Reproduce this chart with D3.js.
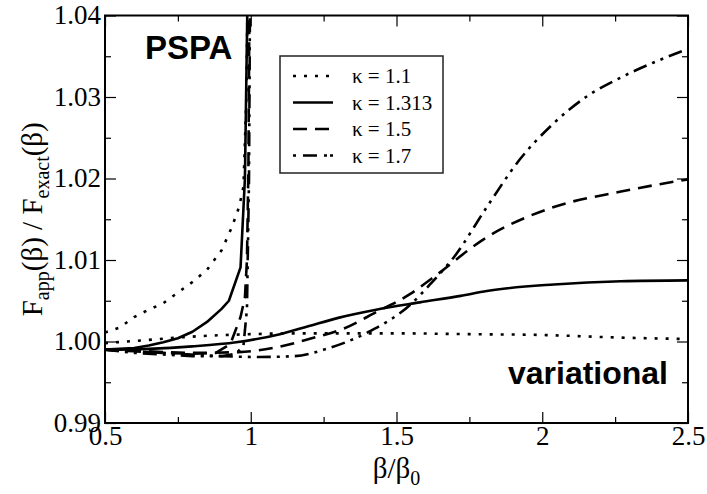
<!DOCTYPE html>
<html><head><meta charset="utf-8">
<script src="https://cdn.jsdelivr.net/npm/d3@7"></script>
<style>body{margin:0;background:#fff}svg{display:block}
.serif{font-family:"Liberation Serif","Times New Roman",Times,serif}
.sans{font-family:"Liberation Sans",Arial,Helvetica,sans-serif}
</style>
</head><body>
<svg id="c" width="707" height="494"></svg>
<script>
// ---- data ----
const xTicks = [0.5, 1, 1.5, 2, 2.5];
const xTickLabels = ["0.5", "1", "1.5", "2", "2.5"];
const xMinor = [0.75, 1.25, 1.75, 2.25];
const yTicks = [0.99, 1.00, 1.01, 1.02, 1.03, 1.04];
const yTickLabels = ["0.99", "1.00", "1.01", "1.02", "1.03", "1.04"];
const yMinor = [0.995, 1.005, 1.015, 1.025, 1.035];

const kappas = ["1.1", "1.313", "1.5", "1.7"];

// PSPA curves [beta/beta0, ratio]
const pspa11 = [[0.5,1.0011],[0.55,1.0017],[0.6,1.0030],[0.65,1.0039],[0.7,1.0047],[0.75,1.0060],[0.8,1.0073],[0.85,1.0088],[0.9,1.0112],[0.935,1.0140],[0.96,1.0165],[0.975,1.0190],[0.985,1.030],[0.99,1.045]];
const pspa1313 = [[0.5,0.9990],[0.55,0.9991],[0.6,0.9992],[0.65,0.9995],[0.7,0.9999],[0.75,1.0004],[0.8,1.0012],[0.85,1.0024],[0.9,1.0040],[0.925,1.0050],[0.965,1.0091],[0.98,1.0200],[0.99,1.045]];
const pspa15 = [[0.5,0.9990],[0.6,0.9988],[0.7,0.9986],[0.8,0.9985],[0.88,0.9986],[0.93,0.9997],[0.965,1.0030],[0.98,1.0054],[0.987,1.0100],[0.992,1.0214],[0.996,1.045]];
const pspa17 = [[0.5,0.9990],[0.6,0.9986],[0.7,0.9984],[0.8,0.9982],[0.9,0.9982],[0.95,0.9985],[0.975,0.9995],[0.987,1.004],[0.994,1.020],[0.998,1.045]];

// variational curves
const var11 = [[0.5,0.9998],[0.65,1.0002],[0.8,1.0006],[1.0,1.0009],[1.15,1.0010],[1.3,1.0010],[1.5,1.0010],[1.75,1.0009],[2.0,1.0008],[2.25,1.0005],[2.5,1.0003]];
const var1313 = [[0.5,0.9990],[0.65,0.9991],[0.8,0.9994],[0.95,0.9999],[1.1,1.0009],[1.2,1.0019],[1.3,1.0029],[1.43,1.0039],[1.58,1.0048],[1.72,1.0056],[1.81,1.0062],[2.04,1.0070],[2.27,1.0074],[2.5,1.0075]];
const var15 = [[0.5,0.9990],[0.65,0.9988],[0.8,0.9986],[0.96,0.9987],[1.09,0.9993],[1.2,1.0003],[1.32,1.0016],[1.43,1.0036],[1.55,1.0059],[1.62,1.0077],[1.81,1.0128],[2.04,1.0165],[2.27,1.0184],[2.5,1.0199]];
const var17 = [[0.5,0.9990],[0.7,0.9986],[0.9,0.9982],[1.03,0.9981],[1.15,0.9982],[1.26,0.9991],[1.4,1.0011],[1.55,1.0046],[1.62,1.0072],[1.7,1.0105],[1.81,1.0165],[1.92,1.0222],[2.04,1.0268],[2.15,1.0300],[2.27,1.0324],[2.38,1.0342],[2.5,1.0359]];

// ---- layout ----
const L = 105, R = 688, T = 15.5, B = 423;
const svg = d3.select("#c");
const x = d3.scaleLinear().domain([0.5, 2.5]).range([L, R]);
const y = d3.scaleLinear().domain([0.99, 1.04]).range([B, T]);
const SERIF = "Liberation Serif, Times New Roman, serif";
const SANS = "Liberation Sans, Arial, sans-serif";

const styles = [
  {dash: "3,8"},
  {dash: null},
  {dash: "14,8"},
  {dash: "14,6,3,6,3,6"}
];

svg.append("defs").append("clipPath").attr("id","clip")
  .append("rect").attr("x",L).attr("y",T).attr("width",R-L).attr("height",B-T);

const lineP = d3.line().x(d => x(d[0])).y(d => y(d[1]));
const lineV = d3.line().x(d => x(d[0])).y(d => y(d[1])).curve(d3.curveMonotoneX);
const g = svg.append("g").attr("clip-path","url(#clip)");
const series = [[pspa11,var11],[pspa1313,var1313],[pspa15,var15],[pspa17,var17]];
series.forEach((pair, i) => {
  pair.forEach((dat, j) => {
    g.append("path").datum(dat).attr("d", j === 0 ? lineP : lineV)
      .attr("fill","none").attr("stroke","#000").attr("stroke-width",2.6)
      .attr("stroke-linejoin","round")
      .attr("stroke-dasharray", styles[i].dash);
  });
});

// ---- axes ----
function styleAxis(sel){
  sel.selectAll(".domain").remove();
  sel.selectAll("line").attr("stroke","#000").attr("stroke-width",1.2);
  sel.attr("font-family", SERIF);
}
const fmtX = d => xTickLabels[xTicks.indexOf(d)];
const fmtY = d => yTickLabels[yTicks.findIndex(v => Math.abs(v-d)<1e-9)];

const gxb = svg.append("g").attr("transform",`translate(0,${B})`)
  .call(d3.axisBottom(x).tickValues(xTicks).tickFormat(fmtX).tickSizeInner(-11).tickSizeOuter(0).tickPadding(3));
styleAxis(gxb);
gxb.selectAll("text").attr("class","serif").style("font-family",SERIF).attr("font-size",27).attr("fill","#000").attr("dy","0.72em");
svg.append("g").attr("transform",`translate(0,${B})`)
  .call(d3.axisBottom(x).tickValues(xMinor).tickFormat("").tickSizeInner(-6).tickSizeOuter(0)).call(styleAxis);
svg.append("g").attr("transform",`translate(0,${T})`)
  .call(d3.axisTop(x).tickValues(xTicks).tickFormat("").tickSizeInner(-11).tickSizeOuter(0)).call(styleAxis);
svg.append("g").attr("transform",`translate(0,${T})`)
  .call(d3.axisTop(x).tickValues(xMinor).tickFormat("").tickSizeInner(-6).tickSizeOuter(0)).call(styleAxis);

const gyl = svg.append("g").attr("transform",`translate(${L},0)`)
  .call(d3.axisLeft(y).tickValues(yTicks).tickFormat(fmtY).tickSizeInner(-11).tickSizeOuter(0).tickPadding(4));
styleAxis(gyl);
gyl.selectAll("text").attr("class","serif").style("font-family",SERIF).attr("font-size",27).attr("fill","#000").attr("dy","0.3em");
svg.append("g").attr("transform",`translate(${L},0)`)
  .call(d3.axisLeft(y).tickValues(yMinor).tickFormat("").tickSizeInner(-6).tickSizeOuter(0)).call(styleAxis);
svg.append("g").attr("transform",`translate(${R},0)`)
  .call(d3.axisRight(y).tickValues(yTicks).tickFormat("").tickSizeInner(-11).tickSizeOuter(0)).call(styleAxis);
svg.append("g").attr("transform",`translate(${R},0)`)
  .call(d3.axisRight(y).tickValues(yMinor).tickFormat("").tickSizeInner(-6).tickSizeOuter(0)).call(styleAxis);

svg.append("rect").attr("x",L).attr("y",T).attr("width",R-L).attr("height",B-T)
  .attr("fill","none").attr("stroke","#000").attr("stroke-width",2);

// ---- axis titles ----
const xt = svg.append("text").attr("class","serif").style("font-family",SERIF).attr("x",(L+R)/2).attr("y",478).attr("text-anchor","middle")
  .attr("font-size",29).attr("fill","#000");
xt.append("tspan").text("β/β");
xt.append("tspan").attr("font-size",20).attr("dy",7).text("0");

const yt = svg.append("text").attr("class","serif").style("font-family",SERIF).attr("transform",`translate(42,${(T+B)/2}) rotate(-90)`).attr("text-anchor","middle")
  .attr("font-size",29).attr("fill","#000");
yt.append("tspan").text("F");
yt.append("tspan").attr("font-size",20).attr("dy",7).text("app");
yt.append("tspan").attr("dy",-7).text("(β) / F");
yt.append("tspan").attr("font-size",20).attr("dy",7).text("exact");
yt.append("tspan").attr("dy",-7).text("(β)");

// ---- annotations ----
svg.append("text").attr("class","sans").style("font-family",SANS).attr("x",145).attr("y",59).attr("font-weight","bold")
  .attr("font-size",33).attr("fill","#000").text("PSPA");
svg.append("text").attr("class","sans").style("font-family",SANS).attr("x",668).attr("y",384).attr("text-anchor","end").attr("font-weight","bold")
  .attr("font-size",32).attr("fill","#000").text("variational");

// ---- legend ----
const lg = svg.append("g");
lg.append("rect").attr("x",280).attr("y",56).attr("width",163).attr("height",117)
  .attr("fill","#fff").attr("stroke","#222").attr("stroke-width",1.5);
kappas.forEach((k, i) => {
  const yy = 76 + i * 26.5;
  lg.append("line").attr("x1",293).attr("x2",333).attr("y1",yy).attr("y2",yy)
    .attr("stroke","#000").attr("stroke-width",2.6).attr("stroke-dasharray", i===3 ? "3,7,14,7,3" : styles[i].dash);
  lg.append("text").attr("class","serif").style("font-family",SERIF).attr("x",352).attr("y",yy).attr("dy","0.35em")
    .attr("font-size",21).attr("fill","#000").text("κ = " + k);
});
</script>
</body></html>
